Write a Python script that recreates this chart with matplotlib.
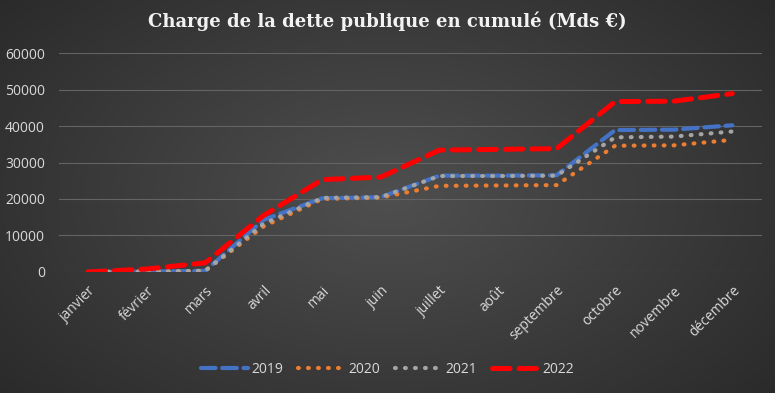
import numpy as np
import matplotlib.pyplot as plt

mois = ['janvier', 'février', 'mars', 'avril', 'mai', 'juin', 'juillet',
        'août', 'septembre', 'octobre', 'novembre', 'décembre']

c2019 = [0, 100, 300, 14300, 20200, 20500, 26400, 26400, 26500, 38900, 39000, 40200]
c2020 = [0, 100, 300, 12500, 20000, 20400, 23600, 23700, 23800, 34600, 34700, 36200]
c2021 = [0, 100, 300, 13200, 20300, 20500, 26300, 26300, 26400, 36900, 37100, 38500]
c2022 = [0, 800, 2500, 15500, 25300, 26000, 33400, 33600, 33800, 46700, 46800, 48900]

fig = plt.figure(figsize=(7.75, 3.93), dpi=100)

# fond dégradé radial
bg = fig.add_axes([0, 0, 1, 1], zorder=-10)
yy, xx = np.mgrid[-1:1:200j, -1:1:400j]
r = np.clip(np.sqrt((xx * 0.85) ** 2 + (yy * 0.7) ** 2), 0, 1.2)
g = 0.31 - 0.13 * r
img = np.dstack([g, g, g])
bg.imshow(img, aspect='auto', extent=[0, 1, 0, 1])
bg.set_xlim(0, 1)
bg.set_ylim(0, 1)
bg.axis('off')

ax = fig.add_axes([0.0757, 0.308, 0.907, 0.557])
ax.patch.set_alpha(0)
x = np.arange(len(mois))

ax.plot(x, c2019, color='#4472C4', lw=3.0, ls=(0, (3.5, 1.6)), dash_capstyle='round', label='2019')
ax.plot(x, c2020, color='#ED7D31', lw=3.0, ls=(0, (0.2, 2.2)), dash_capstyle='round', label='2020')
ax.plot(x, c2021, color='#A5A5A5', lw=3.0, ls=(0, (0.2, 2.2)), dash_capstyle='round', label='2021')
ax.plot(x, c2022, color='#FF0000', lw=3.6, ls=(0, (3.5, 1.8)), dash_capstyle='round', label='2022')

ax.set_xlim(-0.5, 11.5)
ax.set_ylim(0, 60000)
ax.set_yticks(range(0, 60001, 10000))
ax.set_xticks(x)
ax.set_xticklabels(mois, rotation=45, ha='right', rotation_mode='anchor')
ax.tick_params(colors='#d9d9d9', labelsize=10, length=0)
ax.xaxis.set_tick_params(pad=8)
ax.yaxis.set_tick_params(pad=10)
for lab in ax.get_xticklabels() + ax.get_yticklabels():
    lab.set_family('Open Sans')
ax.grid(axis='y', color='#646464', lw=0.8)
ax.set_axisbelow(True)
for s in ax.spines.values():
    s.set_visible(False)

fig.text(0.5, 0.945, 'Charge de la dette publique en cumulé (Mds €)', ha='center', va='center',
         color='#f2f2f2', fontsize=13, fontweight='bold', family='DejaVu Serif')

leg = fig.legend(loc='center', bbox_to_anchor=(0.5, 0.06), ncol=4, frameon=False,
                 handlelength=3.4, columnspacing=1.1, handletextpad=0.2,
                 prop={'family': 'Open Sans', 'size': 10})
for t in leg.get_texts():
    t.set_color('#d9d9d9')

plt.savefig('out.png', dpi=100)
